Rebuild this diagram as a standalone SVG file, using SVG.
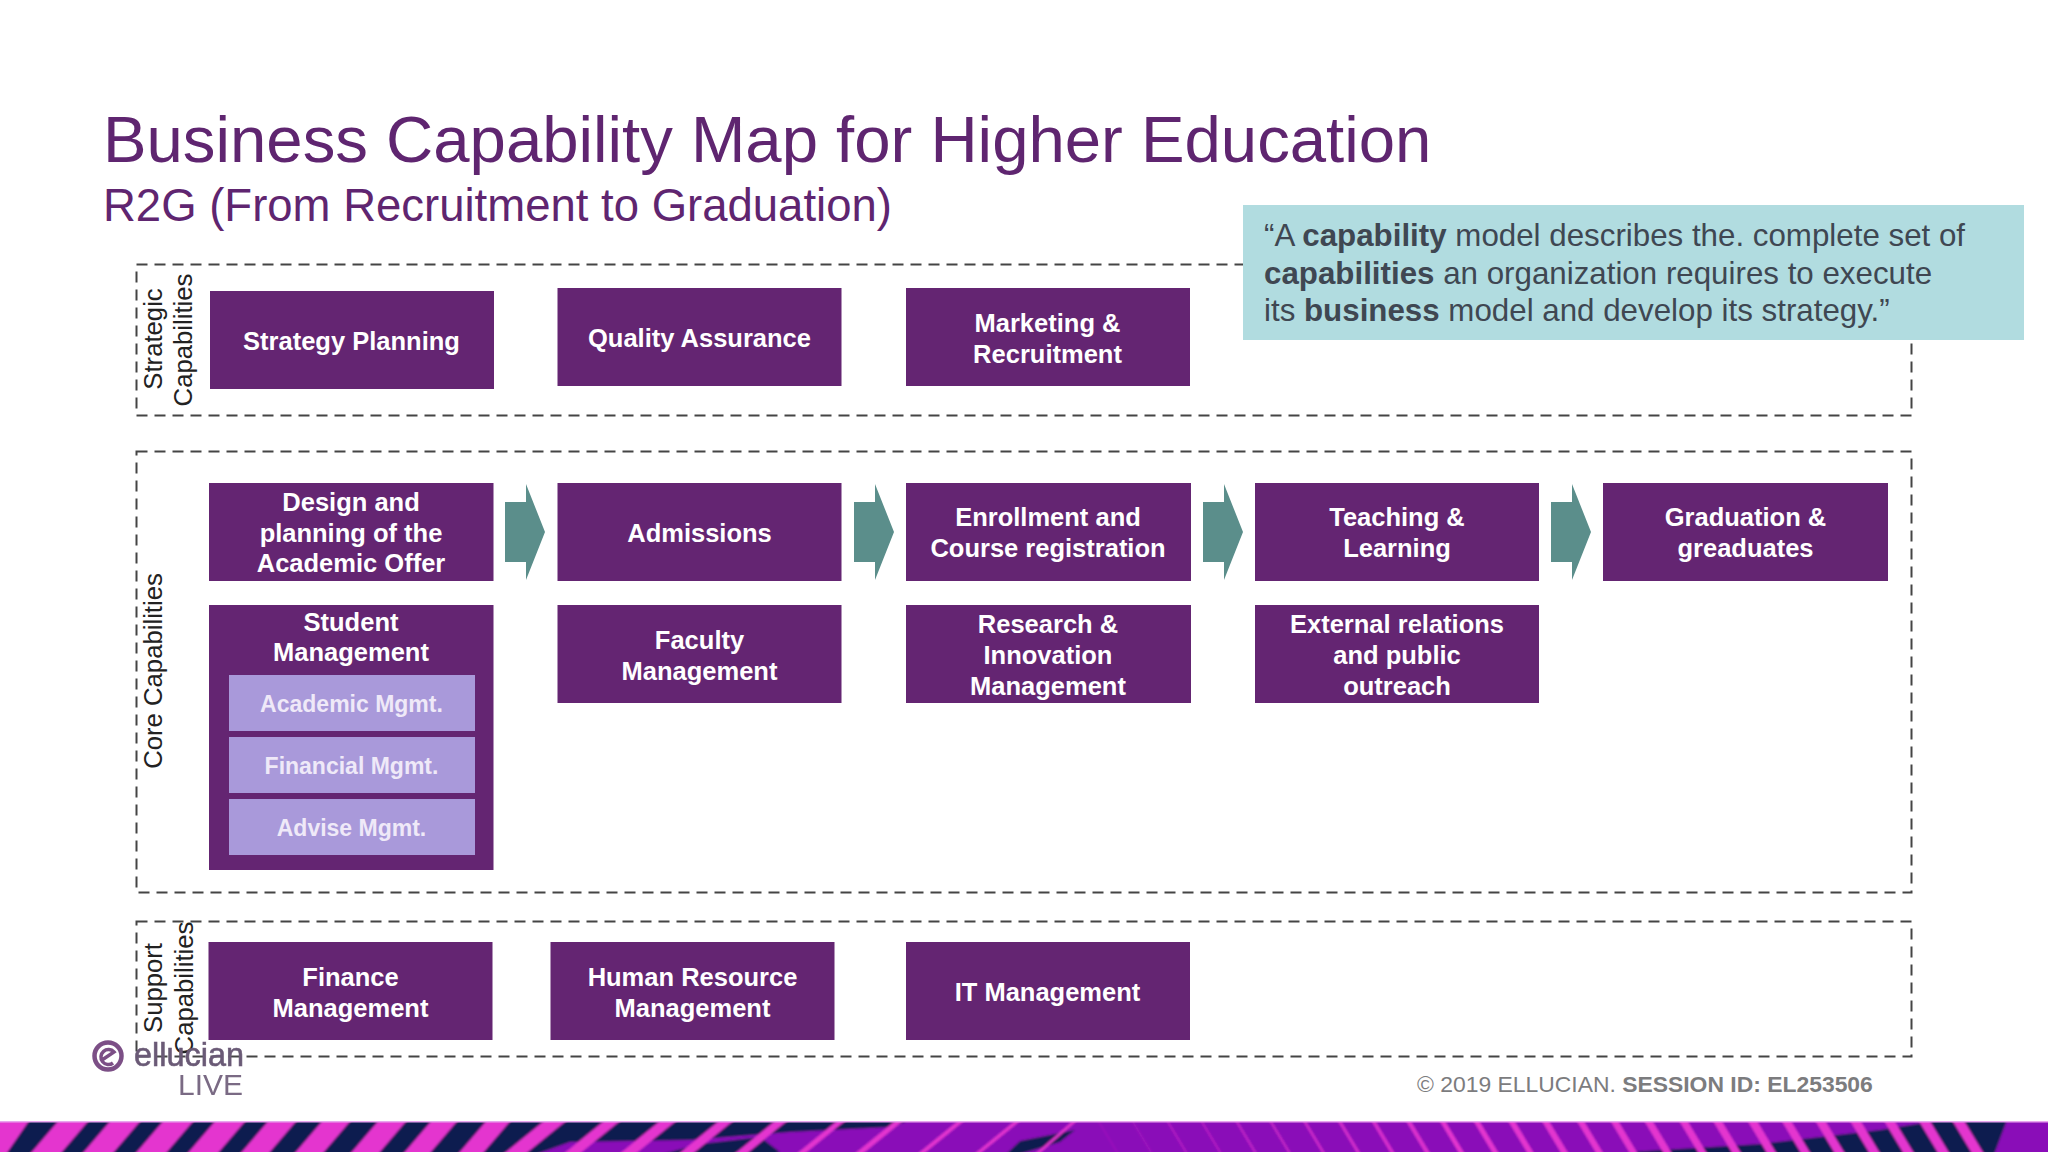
<svg xmlns="http://www.w3.org/2000/svg" width="2048" height="1152" viewBox="0 0 2048 1152">
<style>
text{font-family:"Liberation Sans",Arial,sans-serif}
.box{fill:#642572}
.sub{fill:#a999da}
.lbl{fill:#fff;font-size:25.500px;font-weight:700;text-anchor:middle}
.sl{fill:#efe9f8;font-size:23px;font-weight:700;text-anchor:middle}
.side{fill:#222;font-size:25.700px;text-anchor:middle}
.dash{fill:none;stroke:#444;stroke-width:2;stroke-dasharray:11 7}
.arrow{fill:#5b8e8b}
.quote{fill:#3f4752;font-size:31.300px}
.p{fill:#e436cf}
.n{fill:#0e1f4f}
</style>
<defs><clipPath id="bandclip"><rect x="0" y="1122" width="2048" height="30"/></clipPath>
<filter id="soft" x="-10%" y="-10%" width="120%" height="120%"><feGaussianBlur stdDeviation=".7"/></filter>
<filter id="soft2" x="-5%" y="-20%" width="110%" height="140%"><feGaussianBlur stdDeviation="1"/></filter></defs>
<rect width="2048" height="1152" fill="#fff"/>
<text x="103" y="162" font-size="65.300" fill="#5f2570">Business Capability Map for Higher Education</text>
<text x="103" y="221" font-size="45.500" fill="#5f2570">R2G (From Recruitment to Graduation)</text>
<g id="containers">
<rect class="dash" x="136.500" y="264.500" width="1775" height="151"/>
<rect class="dash" x="136.500" y="451.500" width="1775" height="441"/>
<rect class="dash" x="136.500" y="921.500" width="1775" height="135"/>
<text class="side" transform="translate(162,339) rotate(-90)">Strategic</text>
<text class="side" transform="translate(192,340) rotate(-90)">Capabilities</text>
<text class="side" transform="translate(162,671) rotate(-90)">Core Capabilities</text>
<text class="side" transform="translate(162,988) rotate(-90)">Support</text>
<text class="side" transform="translate(193,988) rotate(-90)">Capabilities</text>
</g>
<g id="connectors">
<polygon class="arrow" points="505,502 526,502 526,484 545,532 526,580 526,562 505,562"/>
<polygon class="arrow" points="854,502 875,502 875,484 894,532 875,580 875,562 854,562"/>
<polygon class="arrow" points="1203,502 1224,502 1224,484 1243,532 1224,580 1224,562 1203,562"/>
<polygon class="arrow" points="1551,502 1572,502 1572,484 1591,532 1572,580 1572,562 1551,562"/>
</g>
<g id="strategy-planning"><rect class="box" x="210" y="291" width="284" height="98"/><text class="lbl" x="351.500" y="350">Strategy Planning</text></g>
<g id="quality-assurance"><rect class="box" x="557.500" y="288" width="284" height="98"/><text class="lbl" x="699.500" y="347">Quality Assurance</text></g>
<g id="marketing"><rect class="box" x="906" y="288" width="284" height="98"/><text class="lbl" x="1047.500" y="332">Marketing &amp;</text><text class="lbl" x="1047.500" y="363">Recruitment</text></g>
<g id="design"><rect class="box" x="209" y="483" width="284.500" height="98"/><text class="lbl" x="351" y="511">Design and</text><text class="lbl" x="351" y="542">planning of the</text><text class="lbl" x="351" y="572">Academic Offer</text></g>
<g id="admissions"><rect class="box" x="557.500" y="483" width="284" height="98"/><text class="lbl" x="699.500" y="542">Admissions</text></g>
<g id="enrollment"><rect class="box" x="906" y="483" width="285" height="98"/><text class="lbl" x="1048" y="526">Enrollment and</text><text class="lbl" x="1048" y="557">Course registration</text></g>
<g id="teaching"><rect class="box" x="1255" y="483" width="284" height="98"/><text class="lbl" x="1397" y="526">Teaching &amp;</text><text class="lbl" x="1397" y="557">Learning</text></g>
<g id="graduation"><rect class="box" x="1603" y="483" width="285" height="98"/><text class="lbl" x="1745.500" y="526">Graduation &amp;</text><text class="lbl" x="1745.500" y="557">greaduates</text></g>
<g id="student-management"><rect class="box" x="209" y="605" width="284.500" height="265"/><text class="lbl" x="351" y="631">Student</text><text class="lbl" x="351" y="661">Management</text>
<rect class="sub" x="229" y="675" width="246" height="56"/><text class="sl" x="351.500" y="712">Academic Mgmt.</text>
<rect class="sub" x="229" y="737" width="246" height="56"/><text class="sl" x="351.500" y="774">Financial Mgmt.</text>
<rect class="sub" x="229" y="799" width="246" height="56"/><text class="sl" x="351.500" y="836">Advise Mgmt.</text></g>
<g id="faculty"><rect class="box" x="557.500" y="605" width="284" height="98"/><text class="lbl" x="699.500" y="649">Faculty</text><text class="lbl" x="699.500" y="680">Management</text></g>
<g id="research"><rect class="box" x="906" y="605" width="285" height="98"/><text class="lbl" x="1048" y="633">Research &amp;</text><text class="lbl" x="1048" y="664">Innovation</text><text class="lbl" x="1048" y="695">Management</text></g>
<g id="external"><rect class="box" x="1255" y="605" width="284" height="98"/><text class="lbl" x="1397" y="633">External relations</text><text class="lbl" x="1397" y="664">and public</text><text class="lbl" x="1397" y="695">outreach</text></g>
<g id="finance"><rect class="box" x="208.500" y="942" width="284" height="98"/><text class="lbl" x="350.500" y="986">Finance</text><text class="lbl" x="350.500" y="1017">Management</text></g>
<g id="hr"><rect class="box" x="550.500" y="942" width="284" height="98"/><text class="lbl" x="692.500" y="986">Human Resource</text><text class="lbl" x="692.500" y="1017">Management</text></g>
<g id="it"><rect class="box" x="906" y="942" width="284" height="98"/><text class="lbl" x="1047.500" y="1001">IT Management</text></g>
<g id="quote"><rect x="1243" y="205" width="781" height="135" fill="#b1dce0"/>
<text class="quote" x="1264" y="246">“A <tspan font-weight="700">capability</tspan> model describes the. complete set of</text>
<text class="quote" x="1264" y="284"><tspan font-weight="700">capabilities</tspan> an organization requires to execute</text>
<text class="quote" x="1264" y="321">its <tspan font-weight="700">business</tspan> model and develop its strategy.”</text></g>
<g id="logo" filter="url(#soft)">
<circle cx="108" cy="1056" r="13.500" fill="none" stroke="#7b4f86" stroke-width="4.500"/>
<path d="M102 1060 L114 1052 A7.500 7.500 0 1 0 113 1063" fill="none" stroke="#7b4f86" stroke-width="3.500"/>
<text x="134" y="1066" font-size="34" fill="#6a5a76" stroke="#6a5a76" stroke-width=".6" textLength="110" lengthAdjust="spacingAndGlyphs">ellucian</text>
<text x="178" y="1095" font-size="30" fill="#7a6a84" textLength="65" lengthAdjust="spacingAndGlyphs">LIVE</text>
</g>
<text x="1417" y="1092" font-size="22.900" fill="#7c7c7e">© 2019 ELLUCIAN. <tspan font-weight="700">SESSION ID: EL253506</tspan></text>
<g id="band" clip-path="url(#bandclip)">
<g filter="url(#soft2)">
<rect x="-10" y="1112" width="2068" height="50" fill="#8a0bb8"/>
<polygon class="n" points="-10,1112 905,1112 905,1122 890,1127 790,1132 690,1140 570,1142 520,1160 -10,1160"/>
<polygon class="n" points="640,1160 700,1144 760,1137 780,1152 760,1160"/>
<polygon class="n" points="1000,1160 1020,1141 1075,1130 1060,1142"/>
<polygon class="n" points="1630,1152 1760,1144 1880,1130 1990,1112 2010,1112 1992,1160 1630,1160"/>
<polygon class="p" points="5,1112 35,1112 2,1160 -28,1160"/>
<polygon class="p" points="66,1112 96,1112 55,1160 25,1160"/>
<polygon class="p" points="118,1112 148,1112 107,1160 77,1160"/>
<polygon class="p" points="171,1112 201,1112 160,1160 130,1160"/>
<polygon class="p" points="223,1112 253,1112 212,1160 182,1160"/>
<polygon class="p" points="276,1112 304,1112 263,1160 235,1160"/>
<polygon class="p" points="330,1112 358,1112 317,1160 289,1160"/>
<polygon class="p" points="386,1112 414,1112 373,1160 345,1160"/>
<polygon class="p" points="439,1112 465,1112 424,1160 398,1160"/>
<polygon class="p" points="494,1112 518,1112 477,1160 453,1160"/>
<polygon class="p" points="555,1112 577,1112 518,1160 496,1160"/>
<polygon class="p" points="615,1112 631,1112 572,1160 556,1160"/>
<polygon class="p" points="671,1112 687,1112 628,1160 612,1160"/>
<polygon class="p" points="730,1112 744,1112 685,1160 671,1160"/>
<polygon class="p" points="786,1112 798,1112 739,1160 727,1160"/>
<polygon class="p" points="848,1112 856,1112 797,1160 789,1160"/>
<polygon class="p" points="906,1112 914,1112 855,1160 847,1160"/>
<polygon class="p" points="969,1112 975,1112 916,1160 910,1160"/>
<polygon class="p" points="1026,1112 1031,1112 972,1160 967,1160"/>
<polygon class="p" points="1083,1112 1087,1112 1032,1160 1028,1160"/>
<g stroke="#e436cf" fill="none">
<path d="M1093 1112l30 50" stroke-width="1" opacity=".35"/>
<path d="M1127 1112l30 50" stroke-width="1" opacity=".45"/>
<path d="M1162 1112l30 50" stroke-width="1.500" opacity=".55"/>
<path d="M1196 1112l30 50" stroke-width="1.500" opacity=".6"/>
<path d="M1231 1112l30 50" stroke-width="2" opacity=".65"/>
<path d="M1265 1112l30 50" stroke-width="2" opacity=".7"/>
<path d="M1299 1112l30 50" stroke-width="2.500" opacity=".75"/>
<path d="M1334 1112l30 50" stroke-width="3" opacity=".8"/>
<path d="M1368 1112l30 50" stroke-width="3.500" opacity=".85"/>
<path d="M1403 1112l30 50" stroke-width="4" opacity=".9"/>
<path d="M1437 1112l30 50" stroke-width="4.500"/>
<path d="M1471 1112l30 50" stroke-width="5"/>
<path d="M1506 1112l30 50" stroke-width="5.500"/>
<path d="M1540 1112l30 50" stroke-width="6"/>
<path d="M1575 1112l30 50" stroke-width="6"/>
<path d="M1609 1112l30 50" stroke-width="6.500"/>
<path d="M1643 1112l30 50" stroke-width="7"/>
<path d="M1678 1112l30 50" stroke-width="7"/>
<path d="M1712 1112l30 50" stroke-width="7.500"/>
<path d="M1747 1112l30 50" stroke-width="8"/>
<path d="M1781 1112l30 50" stroke-width="8"/>
<path d="M1815 1112l30 50" stroke-width="8.500"/>
<path d="M1850 1112l30 50" stroke-width="9"/>
<path d="M1884 1112l30 50" stroke-width="9"/>
<path d="M1919 1112l30 50" stroke-width="9.500"/>
<path d="M1953 1112l30 50" stroke-width="10"/>
</g>
</g>
</g>
<rect id="band-edge" x="0" y="1121" width="2048" height="1.500" fill="#e9a6ef"/>
</svg>
